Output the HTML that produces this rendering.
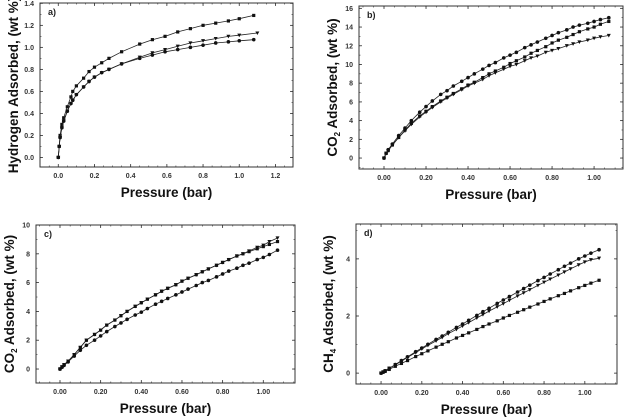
<!DOCTYPE html>
<html><head><meta charset="utf-8">
<style>
html,body{margin:0;padding:0;background:#fff;}
svg{display:block;font-family:"Liberation Sans",Arial,sans-serif;}
.tk{font-size:7px;font-weight:bold;fill:#333;}
.ti{font-size:13.5px;font-weight:bold;fill:#111;}
</style></head>
<body>
<svg id="fig" width="631" height="418" viewBox="0 0 631 418"></svg>
<script>
// ---- panel a: hydrogen ----
const aSqX=[0,0.005,0.01,0.02,0.03,0.05,0.07,0.08,0.1,0.14,0.17,0.2,0.24,0.28,0.35,0.45,0.52,0.59,0.66,0.73,0.8,0.87,0.94,1.0,1.08];
const aSqY=[0,0.1,0.2,0.3,0.36,0.46,0.55,0.6,0.65,0.72,0.78,0.82,0.86,0.9,0.96,1.03,1.07,1.1,1.14,1.17,1.2,1.22,1.24,1.26,1.29];
const aCiX=[0,0.005,0.01,0.02,0.03,0.05,0.07,0.08,0.1,0.14,0.17,0.2,0.24,0.28,0.35,0.45,0.52,0.59,0.66,0.73,0.8,0.87,0.94,1.0,1.08];
const aCiY=[0,0.1,0.18,0.27,0.33,0.42,0.49,0.52,0.57,0.64,0.69,0.73,0.77,0.8,0.85,0.9,0.93,0.96,0.98,1.0,1.02,1.04,1.05,1.06,1.07];
const aTrX=[0,0.005,0.01,0.02,0.03,0.05,0.07,0.08,0.1,0.14,0.17,0.2,0.24,0.28,0.35,0.45,0.52,0.59,0.66,0.73,0.8,0.87,0.94,1.0,1.1];
const aTrY=[0,0.1,0.18,0.27,0.33,0.42,0.49,0.52,0.57,0.64,0.69,0.73,0.77,0.8,0.85,0.91,0.95,0.98,1.01,1.04,1.06,1.08,1.1,1.11,1.13];
const aXTicks=["0.0","0.2","0.4","0.6","0.8","1.0","1.2"];
const aYTicks=["0.0","0.2","0.4","0.6","0.8","1.0","1.2","1.4"];
// ---- common pressure grid for b,c,d ----
const pX=[0,0.01,0.02,0.04,0.07,0.1,0.13,0.17,0.2,0.23,0.27,0.3,0.33,0.37,0.4,0.43,0.47,0.5,0.53,0.57,0.6,0.63,0.67,0.7,0.73,0.77,0.8,0.83,0.87,0.9,0.93,0.97,1.0,1.03,1.07];
// ---- panel b: CO2 ----
const bCi=[0,0.5,0.9,1.5,2.4,3.2,4.0,4.9,5.5,6.1,6.8,7.2,7.7,8.2,8.6,9.0,9.5,9.9,10.2,10.7,11.0,11.3,11.8,12.1,12.4,12.8,13.1,13.4,13.7,14.0,14.2,14.4,14.6,14.8,15.0];
const bSq=[0,0.5,0.8,1.4,2.2,3.0,3.7,4.5,5.0,5.5,6.1,6.5,6.9,7.4,7.8,8.1,8.6,9.0,9.3,9.7,10.1,10.4,10.8,11.2,11.5,11.9,12.3,12.6,12.9,13.2,13.5,13.8,14.0,14.3,14.6];
const bTr=[0,0.5,0.8,1.4,2.2,2.9,3.6,4.4,4.9,5.4,6.0,6.4,6.8,7.3,7.7,8.0,8.4,8.8,9.1,9.5,9.8,10.0,10.4,10.7,10.9,11.3,11.5,11.7,12.0,12.2,12.4,12.6,12.8,12.95,13.1];
// ---- panel c: CO2 ----
const cTr=[0,0.15,0.3,0.55,1.0,1.5,2.0,2.4,2.7,3.05,3.4,3.7,4.0,4.35,4.6,4.85,5.15,5.4,5.6,5.85,6.1,6.3,6.55,6.75,6.95,7.2,7.4,7.6,7.85,8.0,8.2,8.45,8.6,8.85,9.1];
const cSq=[0,0.15,0.3,0.55,1.0,1.5,2.0,2.4,2.7,3.05,3.4,3.7,4.0,4.35,4.6,4.85,5.15,5.4,5.6,5.85,6.1,6.3,6.55,6.75,6.95,7.2,7.4,7.6,7.85,8.0,8.15,8.35,8.5,8.65,8.85];
const cCi=[0,0.12,0.25,0.5,0.9,1.3,1.65,2.0,2.3,2.6,2.95,3.2,3.45,3.75,3.95,4.2,4.5,4.7,4.9,5.15,5.35,5.55,5.8,6.0,6.15,6.4,6.6,6.8,7.0,7.2,7.35,7.6,7.75,7.95,8.25];
// ---- panel d: CH4 ----
const dCi=[0,0.04,0.08,0.17,0.3,0.44,0.57,0.75,0.88,1.01,1.18,1.3,1.43,1.6,1.72,1.85,2.02,2.15,2.27,2.44,2.56,2.68,2.84,2.96,3.08,3.24,3.35,3.47,3.62,3.74,3.85,4.0,4.1,4.2,4.32];
const dTr=[0,0.04,0.08,0.17,0.29,0.42,0.55,0.72,0.85,0.97,1.13,1.25,1.38,1.53,1.65,1.77,1.93,2.05,2.17,2.32,2.43,2.55,2.7,2.81,2.92,3.07,3.18,3.29,3.43,3.54,3.65,3.79,3.89,3.97,4.02];
const dSq=[0,0.03,0.06,0.13,0.24,0.34,0.44,0.58,0.68,0.78,0.91,1.01,1.1,1.23,1.32,1.41,1.53,1.63,1.72,1.83,1.93,2.02,2.13,2.22,2.31,2.42,2.51,2.6,2.71,2.79,2.88,2.99,3.07,3.15,3.25];
const pXTicks=["0.00","0.20","0.40","0.60","0.80","1.00"];
const bYTicks=["0","2","4","6","8","10","12","14","16"];
const cYTicks=["0","2","4","6","8","10"];
const dYTicks=["0","2","4"];

const NS="http://www.w3.org/2000/svg";
const svg=document.getElementById('fig');
function mk(tag,attrs,parent){const e=document.createElementNS(NS,tag);for(const k in attrs)e.setAttribute(k,attrs[k]);(parent||svg).appendChild(e);return e;}

function panel(cfg){
  const g=mk('g',{});
  
  
  const sx=v=>cfg.L+(v-cfg.x0)/(cfg.x1-cfg.x0)*(cfg.R-cfg.L);
  const sy=v=>cfg.B-(v-cfg.y0)/(cfg.y1-cfg.y0)*(cfg.B-cfg.T);
  const frame=mk('rect',{x:cfg.L,y:cfg.T,width:cfg.R-cfg.L,height:cfg.B-cfg.T,fill:'none',stroke:'#333','stroke-width':1},g);
  
  
  cfg.xt.forEach((t,i)=>{
    const v=parseFloat(t), X=sx(v);
    mk('line',{x1:X,x2:X,y1:cfg.B,y2:cfg.B-3,stroke:'#333','stroke-width':0.8},g);
    mk('line',{x1:X,x2:X,y1:cfg.T,y2:cfg.T+3,stroke:'#333','stroke-width':0.8},g);
    const tx=mk('text',{x:X,y:cfg.B+11,'text-anchor':'middle',class:'tk'},g);
    tx.textContent=t;
    
    
  });
  const xs=parseFloat(cfg.xt[1])-parseFloat(cfg.xt[0]);
  for(let v=cfg.x0;v<=cfg.x1;v+=xs/4){const X=sx(Math.round(v/(xs/4))*(xs/4));if(X<cfg.L||X>cfg.R)continue;
    mk('line',{x1:X,x2:X,y1:cfg.B,y2:cfg.B-1.5,stroke:'#333','stroke-width':0.6},g);
    mk('line',{x1:X,x2:X,y1:cfg.T,y2:cfg.T+1.5,stroke:'#333','stroke-width':0.6},g);}
  cfg.yt.forEach(t=>{
    const v=parseFloat(t), Y=sy(v);
    mk('line',{x1:cfg.L,x2:cfg.L+3,y1:Y,y2:Y,stroke:'#333','stroke-width':0.8},g);
    mk('line',{x1:cfg.R,x2:cfg.R-3,y1:Y,y2:Y,stroke:'#333','stroke-width':0.8},g);
    const tx=mk('text',{x:cfg.L-6,y:Y+2.5,'text-anchor':'end',class:'tk'},g);
    tx.textContent=t;
    
    
  });
  const ys=parseFloat(cfg.yt[1])-parseFloat(cfg.yt[0]);
  for(let k=Math.ceil(cfg.y0/(ys/2));k*(ys/2)<=cfg.y1;k++){const Y=sy(k*ys/2);
    mk('line',{x1:cfg.L,x2:cfg.L+1.5,y1:Y,y2:Y,stroke:'#333','stroke-width':0.6},g);
    mk('line',{x1:cfg.R,x2:cfg.R-1.5,y1:Y,y2:Y,stroke:'#333','stroke-width':0.6},g);}
  const lb=mk('text',{x:cfg.L+8,y:cfg.T+12,'font-size':'9','font-weight':'bold',fill:'#222'},g);
  lb.textContent=cfg.letter;
  
  
  cfg.series.forEach(s=>{
    const sg=mk('g',{},g);
    
    
    const pts=s.x.map((x,i)=>sx(x).toFixed(1)+','+sy(s.y[i]).toFixed(1)).join(' ');
    mk('polyline',{points:pts,fill:'none',stroke:'#222','stroke-width':0.8},sg);
    s.x.forEach((x,i)=>{
      const X=sx(x),Y=sy(s.y[i]);let m;
      if(s.m==='sq')m=mk('rect',{x:X-1.6,y:Y-1.6,width:3.2,height:3.2,fill:'#111'},sg);
      else if(s.m==='ci')m=mk('circle',{cx:X,cy:Y,r:1.8,fill:'#111'},sg);
      else m=mk('polygon',{points:`${X-2},${Y-1.6} ${X+2},${Y-1.6} ${X},${Y+2}`,fill:'#111'},sg);
      
      
    });
  });
  const xt=mk('text',{x:(cfg.L+cfg.R)/2,y:cfg.xtY,'text-anchor':'middle',class:'ti'},g);
  xt.textContent='Pressure (bar)';
  
  
  const yt=mk('text',{x:0,y:0,'text-anchor':'middle',class:'ti',transform:`translate(${cfg.ytX},${(cfg.T+cfg.B)/2}) rotate(-90)`},g);
  yt.innerHTML=cfg.ytitle;
  
  
}

panel({name:'panel-a-hydrogen',letter:'a)',L:40,R:293,T:3,B:167,x0:-0.101,x1:1.297,y0:-0.087,y1:1.403,xt:aXTicks,yt:aYTicks,xtY:197,ytX:18,
  ytitle:'Hydrogen Adsorbed, (wt %)',
  series:[{name:'series-square',m:'sq',x:aSqX,y:aSqY},{name:'series-circle',m:'ci',x:aCiX,y:aCiY},{name:'series-triangle',m:'tr',x:aTrX,y:aTrY}]});
panel({name:'panel-b-co2',letter:'b)',L:359,R:623,T:6,B:169,x0:-0.119,x1:1.1376,y0:-1.17,y1:16.25,xt:pXTicks,yt:bYTicks,xtY:199,ytX:337,
  ytitle:'CO<tspan dy="3" font-size="8">2</tspan><tspan dy="-3"> Adsorbed, (wt %)</tspan>',
  series:[{name:'series-circle',m:'ci',x:pX,y:bCi},{name:'series-square',m:'sq',x:pX,y:bSq},{name:'series-triangle',m:'tr',x:pX,y:bTr}]});
panel({name:'panel-c-co2',letter:'c)',L:36,R:295,T:225,B:383,x0:-0.118,x1:1.156,y0:-0.97,y1:10,xt:pXTicks,yt:cYTicks,xtY:413,ytX:14,
  ytitle:'CO<tspan dy="3" font-size="8">2</tspan><tspan dy="-3"> Adsorbed, (wt %)</tspan>',
  series:[{name:'series-triangle',m:'tr',x:pX,y:cTr},{name:'series-square',m:'sq',x:pX,y:cSq},{name:'series-circle',m:'ci',x:pX,y:cCi}]});
panel({name:'panel-d-ch4',letter:'d)',L:356,R:617,T:224,B:384,x0:-0.123,x1:1.158,y0:-0.38,y1:5.22,xt:pXTicks,yt:dYTicks,xtY:414,ytX:333,
  ytitle:'CH<tspan dy="3" font-size="8">4</tspan><tspan dy="-3"> Adsorbed, (wt %)</tspan>',
  series:[{name:'series-circle',m:'ci',x:pX,y:dCi},{name:'series-triangle',m:'tr',x:pX,y:dTr},{name:'series-square',m:'sq',x:pX,y:dSq}]});
</script>
</body></html>
